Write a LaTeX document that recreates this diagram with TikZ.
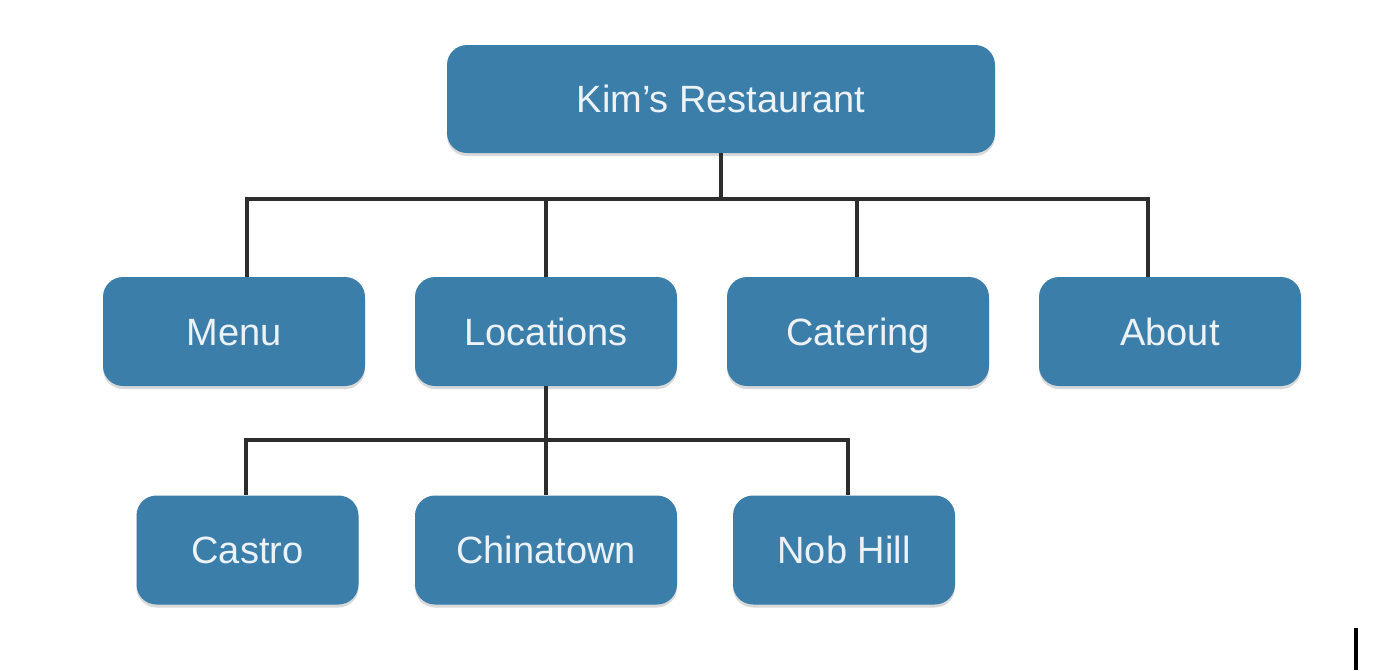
\documentclass[tikz,border=0pt]{standalone}
\usepackage{fontspec}
\setmainfont{Liberation Sans}
\usetikzlibrary{shadows}
\definecolor{boxblue}{RGB}{60,126,170}
\definecolor{boxtext}{RGB}{236,242,246}
\definecolor{linegray}{RGB}{45,45,45}
\tikzset{
  box/.style={rectangle, rounded corners=20pt, fill=boxblue, text=boxtext,
    minimum width=262pt, minimum height=109pt, inner sep=0pt,
    text height=27pt, text depth=0pt,
    font=\fontsize{38}{44}\selectfont,
    drop shadow={opacity=0.3, shadow xshift=0pt, shadow yshift=-3pt}},
  smallbox/.style={box, minimum width=222pt},
  conn/.style={draw=linegray, line width=3.2pt}
}
\begin{document}
\begin{tikzpicture}[x=1pt,y=-1pt]
\useasboundingbox (0,0) rectangle (1374,670);
% nodes
\node[box, minimum width=548pt, minimum height=108pt] (root) at (721,99) {Kim’s Restaurant};
\node[box] (menu) at (234,331.5) {Menu};
\node[box] (loc) at (546,331.5) {Locations};
\node[box] (cat) at (858,331.5) {Catering};
\node[box] (about) at (1170,331.5) {About};
\node[smallbox] (castro) at (247.5,550) {Castro};
\node[box] (china) at (546,550) {Chinatown};
\node[smallbox] (nob) at (844,550) {Nob Hill};
% bus coordinates
\coordinate (b1L) at (247,199);
\coordinate (b1R) at (1148,199);
\coordinate (b1C) at (857,199);
\coordinate (b2L) at (246,440);
\coordinate (b2R) at (848,440);
% connectors level 1
\draw[conn] (root.south) -- (root.south |- b1L);
\draw[conn, line cap=rect] (b1L) -- (b1R);
\draw[conn] (b1L) -- (b1L |- menu.north);
\draw[conn] (loc.north |- b1L) -- (loc.north);
\draw[conn] (b1C) -- (b1C |- cat.north);
\draw[conn] (b1R) -- (b1R |- about.north);
% connectors level 2
\draw[conn] (loc.south) -- (loc.south |- b2L);
\draw[conn, line cap=rect] (b2L) -- (b2R);
\draw[conn] (b2L) -- (b2L |- castro.north);
\draw[conn] (china.north |- b2L) -- (china.north);
\draw[conn] (b2R) -- (b2R |- nob.north);
% cursor bar
\fill[black] (1354,628) rectangle (1358,670);
\end{tikzpicture}
\end{document}
